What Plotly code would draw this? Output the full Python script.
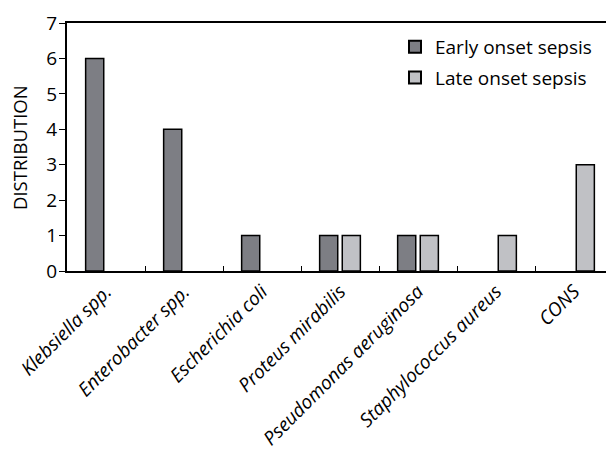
import plotly.graph_objects as go

categories = ["Klebsiella spp.", "Enterobacter spp.", "Escherichia coli", "Proteus mirabilis",
              "Pseudomonas aeruginosa", "Staphylococcus aureus", "CONS"]
early = [6, 4, 1, 1, 1, 0, 0]
late = [0, 0, 0, 1, 1, 1, 3]
tick_labels = [f"<i>{c}</i>" for c in categories]

# page has an 8px body margin, so the figure is sized to fit the 614x455 window
W, H = 606, 447
L, T, R, B = 59, 15, 1, 184
plot_w = W - L - R

font = "Open Sans"
fig = go.Figure()
fig.add_trace(go.Bar(x=categories, y=early, name="Early onset sepsis", legendgroup="e",
                     marker=dict(color="#7d7e84",
                                 line=dict(color="black", width=[1.5 if v else 0 for v in early]))))
fig.add_trace(go.Bar(x=categories, y=late, name="Late onset sepsis", legendgroup="l",
                     marker=dict(color="#c0c1c5",
                                 line=dict(color="black", width=[1.5 if v else 0 for v in late]))))

fig.update_layout(
    width=W, height=H,
    margin=dict(l=L, r=R, t=T, b=B, autoexpand=False),
    paper_bgcolor="white", plot_bgcolor="white",
    barmode="group", bargap=0.42, bargroupgap=0.2,
    font=dict(family=font, color="black"),
    legend=dict(x=(387 - L) / plot_w, y=0.98, xanchor="left", yanchor="top",
                font=dict(size=19), bgcolor="rgba(0,0,0,0)", tracegroupgap=3,
                traceorder="grouped", itemwidth=30, itemsizing="constant"),
    showlegend=True,
    annotations=[dict(text="DISTRIBUTION", textangle=-90, xref="paper", yref="paper",
                      x=(11 - L) / plot_w, y=0.5, xanchor="center", yanchor="middle",
                      showarrow=False, font=dict(size=18.5))],
)
fig.update_xaxes(
    type="category", tickvals=categories, ticktext=tick_labels,
    tickangle=-45, tickfont=dict(size=19), automargin=False,
    showline=True, linecolor="black", linewidth=2, mirror=True,
    ticks="inside", ticklen=5, tickcolor="black", tickson="boundaries",
    showgrid=False,
)
fig.update_yaxes(
    range=[0, 7], dtick=1, automargin=False,
    showline=True, linecolor="black", linewidth=2,
    ticks="outside", ticklen=6, tickcolor="black", ticklabelstandoff=-2,
    tickfont=dict(size=19), showgrid=False, zeroline=False,
)
fig.write_html("out.html")
